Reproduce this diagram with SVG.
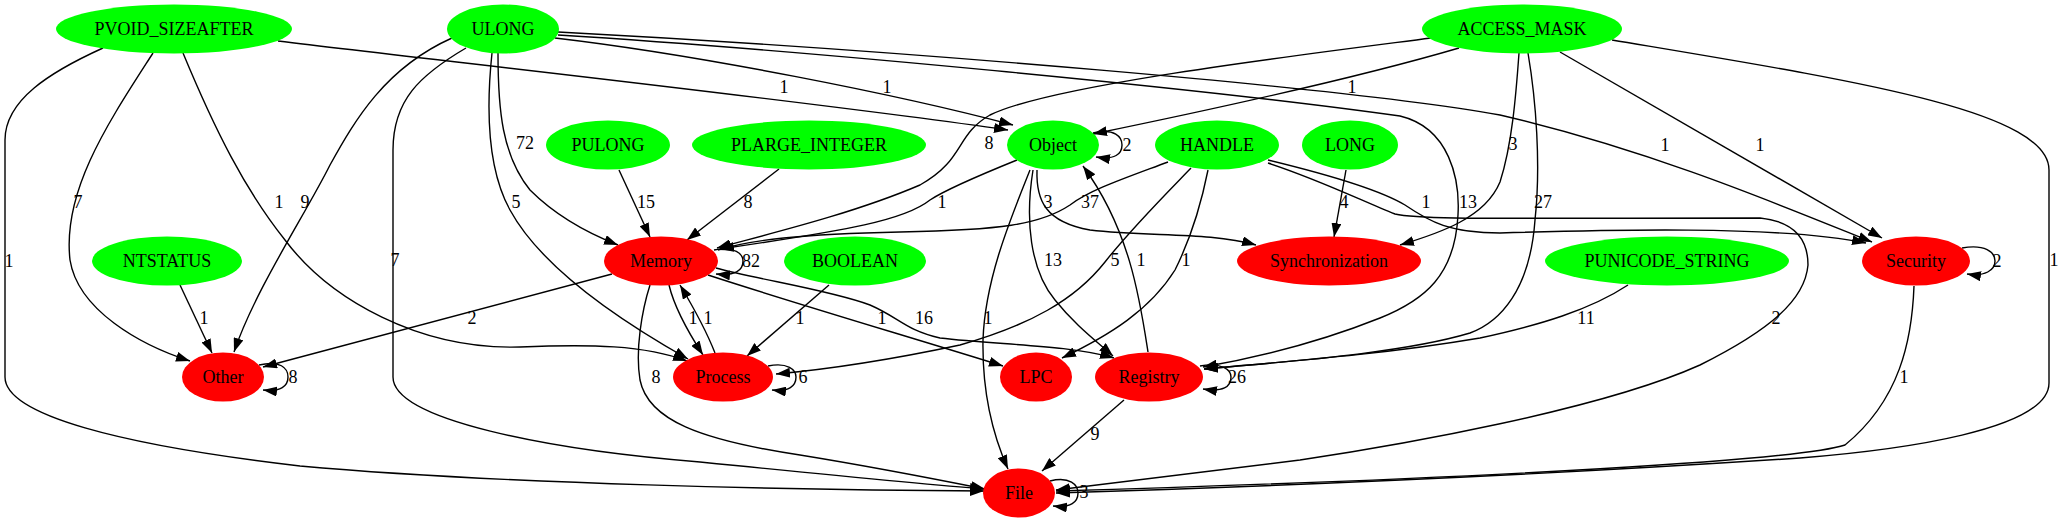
<svg xmlns="http://www.w3.org/2000/svg" width="2065" height="523" viewBox="0 0 2065 523">
<style>
text{font-family:"Liberation Serif","Times New Roman",serif;font-size:18px;fill:#000;text-anchor:middle}
.g{fill:#00ff00}
.r{fill:#ff0000}
.e path{fill:none;stroke:#000;stroke-width:1.4;marker-end:url(#a)}
</style>
<defs>
<marker id="a" viewBox="0 0 14 10" refX="14" refY="5" markerWidth="14" markerHeight="10" markerUnits="userSpaceOnUse" orient="auto"><path d="M0,0 L14,5 L0,10 z" fill="#000"/></marker>
</defs>
<rect width="2065" height="523" fill="#fff"/>
<g id="edges" class="e">
<path d="M103,48 C50,72 5,100 5,140 L5,377 C5,415 120,445 300,466 C500,484 800,490 984,491"/>
<path d="M153,53 C110,120 62,190 70,260 C78,310 140,345 190,361"/>
<path d="M183,53 C215,130 245,190 285,240 C330,300 420,350 520,347 C590,344 645,345 687,361"/>
<path d="M278,41 C450,62 800,100 1008,130"/>
<path d="M555,38 C700,55 900,95 1013,125"/>
<path d="M452,38 C385,68 355,120 330,165 C305,215 255,290 234,352"/>
<path d="M466,48 C420,75 393,100 393,150 L393,377 C393,420 550,450 700,462 C820,474 920,484 984,489"/>
<path d="M492,53 C486,110 488,170 510,210 C540,265 610,315 688,359"/>
<path d="M498,53 C498,110 502,155 530,190 C560,220 595,236 618,245"/>
<path d="M558,35 C800,50 1200,88 1400,116 C1450,128 1460,180 1458,215 C1455,275 1425,300 1380,318 C1320,342 1260,357 1203,367"/>
<path d="M558,32 C900,50 1350,88 1500,115 C1650,150 1780,205 1872,242"/>
<path d="M1459,48 C1350,80 1200,112 1093,134"/>
<path d="M1431,38 C1300,55 1050,85 990,115 C955,135 965,160 920,185 C850,215 760,236 717,248"/>
<path d="M1519,53 C1516,95 1512,145 1500,182 C1485,218 1440,233 1400,245"/>
<path d="M1528,53 C1536,100 1541,165 1535,220 C1530,290 1500,322 1470,333 C1400,354 1280,362 1204,369"/>
<path d="M1560,52 L1882,238"/>
<path d="M1612,40 C1850,80 2049,110 2049,170 L2049,383 C2049,430 1900,450 1800,458 C1500,478 1250,487 1056,493"/>
<path d="M1914,286 C1912,340 1900,400 1845,445 C1800,460 1500,478 1056,491"/>
<path d="M1962,248 C1985,244 1995,252 1995,261 C1995,270 1985,277 1967,274"/>
<path d="M1168,162 C1120,180 1090,190 1070,205 C1040,225 1000,230 900,232 C800,234 750,240 718,250"/>
<path d="M1017,160 C980,175 945,190 930,200 C905,220 850,230 720,249"/>
<path d="M1191,168 C1160,200 1130,230 1105,262 C1075,300 1030,325 960,345 C880,362 820,370 776,374"/>
<path d="M1208,170 C1200,210 1190,240 1175,270 C1150,310 1110,335 1062,358"/>
<path d="M1268,160 C1330,175 1380,190 1405,205 C1430,222 1450,233 1500,233 C1600,230 1780,225 1866,243"/>
<path d="M1268,163 C1320,180 1360,200 1395,214 C1420,220 1500,218 1760,218 C1800,222 1808,245 1808,265 C1805,300 1770,330 1700,365 C1600,410 1400,445 1300,460 C1200,473 1100,484 1056,490"/>
<path d="M1093,133 C1115,128 1122,137 1122,145 C1122,154 1115,160 1096,157"/>
<path d="M619,170 L650,237"/>
<path d="M779,169 L687,240"/>
<path d="M180,285 L212,353"/>
<path d="M612,274 L263,367"/>
<path d="M259,365 C280,360 288,368 288,377 C288,386 281,392 263,390"/>
<path d="M714,250 C735,246 743,254 743,261 C743,270 736,276 716,274"/>
<path d="M669,285 C675,310 690,335 703,355"/>
<path d="M715,353 C706,330 692,305 680,285"/>
<path d="M829,285 L747,356"/>
<path d="M708,275 C800,305 920,340 1003,366"/>
<path d="M716,268 C760,280 830,290 870,305 C900,318 905,330 940,338 C1000,345 1070,345 1114,358"/>
<path d="M1037,170 C1036,200 1045,222 1090,230 C1150,237 1210,232 1256,245"/>
<path d="M1033,170 C1025,220 1030,270 1055,300 C1075,325 1095,340 1113,356"/>
<path d="M1030,170 C1010,220 985,280 983,340 C982,400 995,440 1008,469"/>
<path d="M1148,352 C1140,300 1130,230 1083,166"/>
<path d="M1200,366 C1222,362 1231,370 1231,377 C1231,387 1223,392 1203,389"/>
<path d="M1628,285 C1590,310 1540,325 1480,338 C1380,355 1280,362 1204,369"/>
<path d="M1124,400 L1042,471"/>
<path d="M650,285 C642,310 635,350 640,380 C648,420 700,440 800,455 C880,468 940,480 985,489"/>
<path d="M768,366 C788,362 796,370 796,377 C796,386 789,392 772,390"/>
<path d="M1050,481 C1070,476 1078,485 1078,493 C1078,502 1071,508 1053,506"/>
<path d="M1346,170 L1334,237"/>
<g id="edge-labels">
<text x="9" y="267">1</text>
<text x="78" y="208">7</text>
<text x="279" y="208">1</text>
<text x="305" y="208">9</text>
<text x="395" y="266">7</text>
<text x="516" y="208">5</text>
<text x="525" y="149">72</text>
<text x="646" y="208">15</text>
<text x="748" y="208">8</text>
<text x="989" y="149">8</text>
<text x="784" y="93">1</text>
<text x="887" y="93">1</text>
<text x="942" y="208">1</text>
<text x="1048" y="208">3</text>
<text x="1090" y="208">37</text>
<text x="1053" y="266">13</text>
<text x="1115" y="266">5</text>
<text x="1141" y="266">1</text>
<text x="1186" y="266">1</text>
<text x="988" y="324">1</text>
<text x="1344" y="208">4</text>
<text x="1426" y="208">1</text>
<text x="1468" y="208">13</text>
<text x="1543" y="208">27</text>
<text x="1513" y="150">3</text>
<text x="1352" y="93">1</text>
<text x="1665" y="151">1</text>
<text x="1760" y="151">1</text>
<text x="2054" y="266">1</text>
<text x="1997" y="267">2</text>
<text x="1586" y="324">11</text>
<text x="1776" y="324">2</text>
<text x="1904" y="383">1</text>
<text x="1237" y="383">26</text>
<text x="1095" y="440">9</text>
<text x="1084" y="498">3</text>
<text x="751" y="267">82</text>
<text x="693" y="324">1</text>
<text x="708" y="324">1</text>
<text x="800" y="324">1</text>
<text x="882" y="324">1</text>
<text x="924" y="324">16</text>
<text x="803" y="383">6</text>
<text x="656" y="383">8</text>
<text x="204" y="324">1</text>
<text x="472" y="324">2</text>
<text x="293" y="383">8</text>
<text x="1127" y="151">2</text>
</g>
</g>
<g id="nodes">
<g id="node-PVOID_SIZEAFTER"><ellipse class="g" cx="174" cy="29" rx="118" ry="24.5"/><text x="174" y="35">PVOID_SIZEAFTER</text></g>
<g id="node-ULONG"><ellipse class="g" cx="503" cy="29" rx="56" ry="24.5"/><text x="503" y="35">ULONG</text></g>
<g id="node-ACCESS_MASK"><ellipse class="g" cx="1522" cy="29" rx="100" ry="24.5"/><text x="1522" y="35">ACCESS_MASK</text></g>
<g id="node-PULONG"><ellipse class="g" cx="608" cy="145" rx="62" ry="24.5"/><text x="608" y="151">PULONG</text></g>
<g id="node-PLARGE_INTEGER"><ellipse class="g" cx="809" cy="145" rx="117" ry="24.5"/><text x="809" y="151">PLARGE_INTEGER</text></g>
<g id="node-Object"><ellipse class="g" cx="1053" cy="145" rx="46" ry="24.5"/><text x="1053" y="151">Object</text></g>
<g id="node-HANDLE"><ellipse class="g" cx="1217" cy="145" rx="62" ry="24.5"/><text x="1217" y="151">HANDLE</text></g>
<g id="node-LONG"><ellipse class="g" cx="1350" cy="145" rx="48" ry="24.5"/><text x="1350" y="151">LONG</text></g>
<g id="node-NTSTATUS"><ellipse class="g" cx="167" cy="261" rx="75" ry="24.5"/><text x="167" y="267">NTSTATUS</text></g>
<g id="node-Memory"><ellipse class="r" cx="661" cy="261" rx="57" ry="24.5"/><text x="661" y="267">Memory</text></g>
<g id="node-BOOLEAN"><ellipse class="g" cx="855" cy="261" rx="71" ry="24.5"/><text x="855" y="267">BOOLEAN</text></g>
<g id="node-Synchronization"><ellipse class="r" cx="1329" cy="261" rx="92" ry="24.5"/><text x="1329" y="267">Synchronization</text></g>
<g id="node-PUNICODE_STRING"><ellipse class="g" cx="1667" cy="261" rx="122" ry="24.5"/><text x="1667" y="267">PUNICODE_STRING</text></g>
<g id="node-Security"><ellipse class="r" cx="1916" cy="261" rx="54" ry="24.5"/><text x="1916" y="267">Security</text></g>
<g id="node-Other"><ellipse class="r" cx="223" cy="377" rx="41" ry="24.5"/><text x="223" y="383">Other</text></g>
<g id="node-Process"><ellipse class="r" cx="723" cy="377" rx="50" ry="24.5"/><text x="723" y="383">Process</text></g>
<g id="node-LPC"><ellipse class="r" cx="1036" cy="377" rx="36" ry="24.5"/><text x="1036" y="383">LPC</text></g>
<g id="node-Registry"><ellipse class="r" cx="1149" cy="377" rx="54" ry="24.5"/><text x="1149" y="383">Registry</text></g>
<g id="node-File"><ellipse class="r" cx="1019" cy="493" rx="36" ry="24.5"/><text x="1019" y="499">File</text></g>
</g>
</svg>
